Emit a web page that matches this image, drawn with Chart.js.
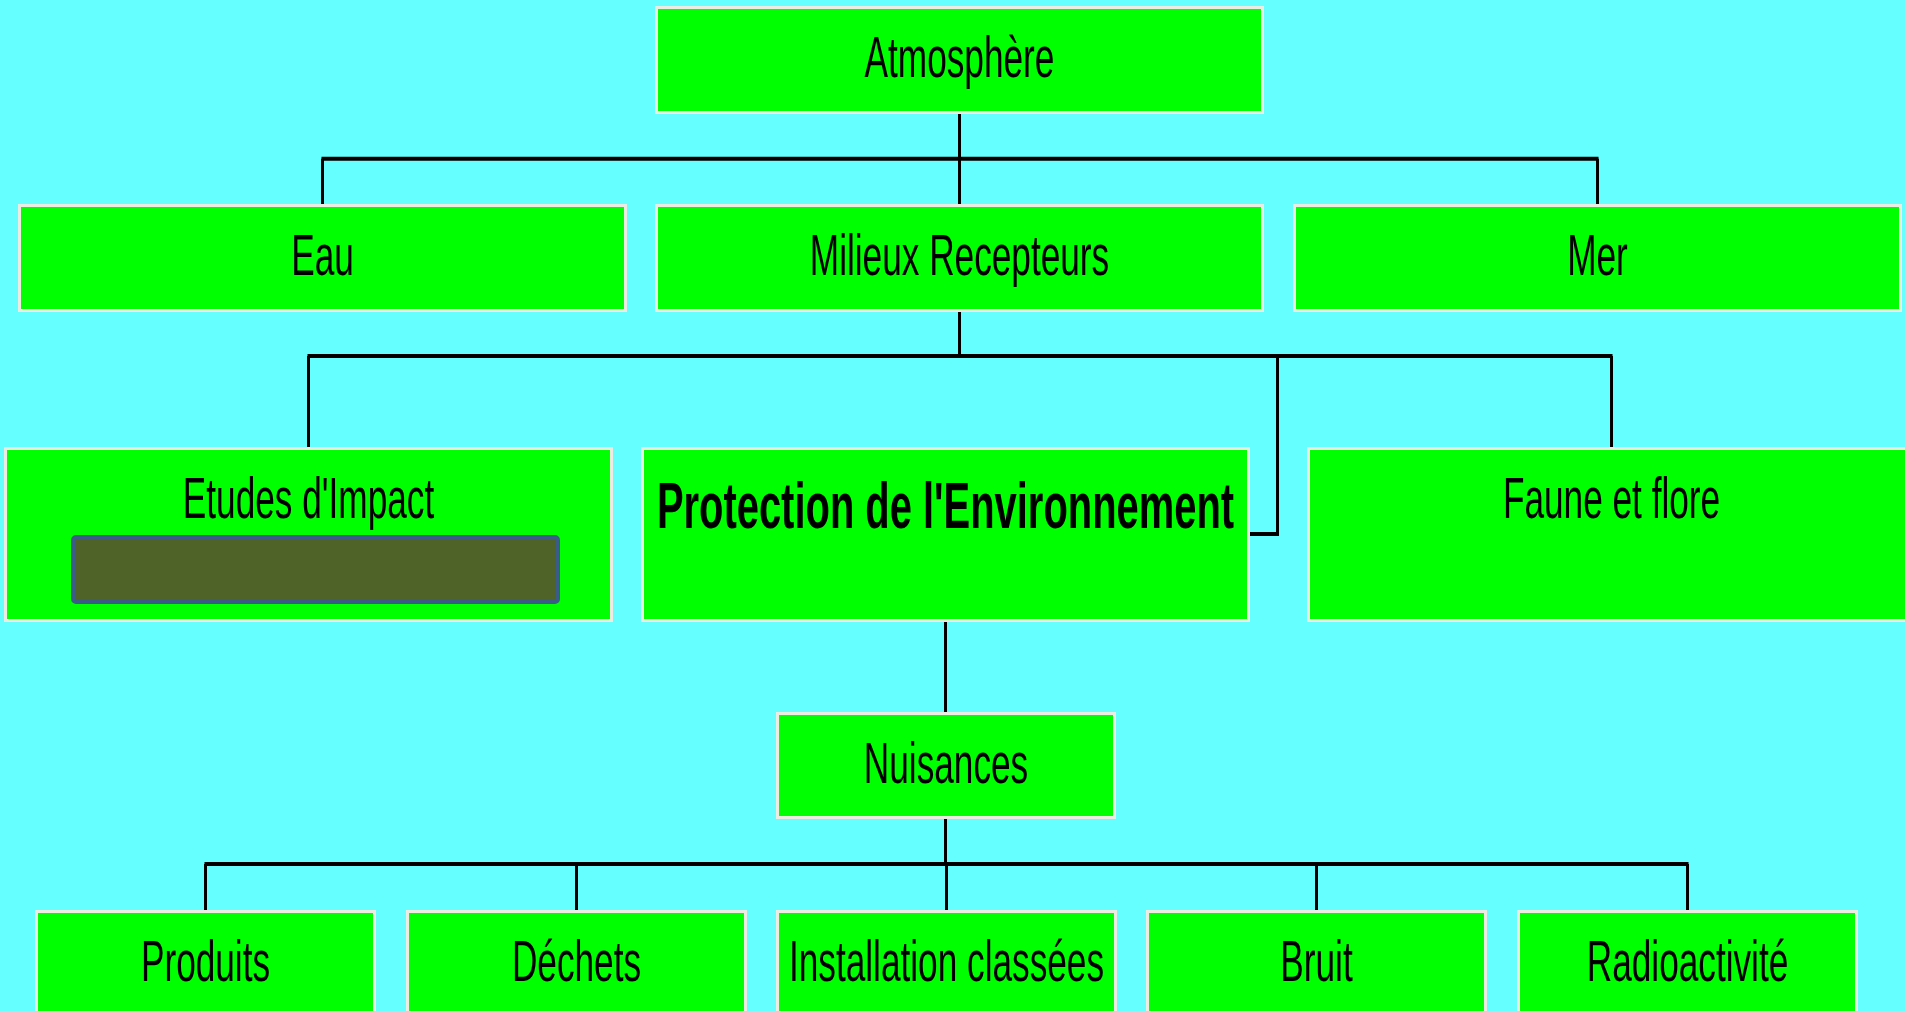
<!DOCTYPE html>
<html>
<head>
<meta charset="utf-8">
<script src="https://cdn.jsdelivr.net/npm/chart.js@4.4.1/dist/chart.umd.min.js"></script>
<style>
  html, body { margin: 0; padding: 0; background: #66FFFF; overflow: hidden; }
  #wrap { position: absolute; left: 0; top: 0; width: 1905px; height: 1011px; }
</style>
</head>
<body>
<div id="wrap"><canvas id="c" width="1905" height="1011"></canvas></div>
<script>
// ---------- DATA (node labels per level) ----------
const level0 = ['Atmosphère'];
const level1 = ['Eau', 'Milieux Recepteurs', 'Mer'];
const level2 = ["Etudes d'Impact", "Protection de l'Environnement", 'Faune et flore'];
const level3 = ['Nuisances'];
const level4 = ['Produits', 'Déchets', 'Installation classées', 'Bruit', 'Radioactivité'];
const levels = [level0, level1, level2, level3, level4];
// parent of each level: [parentLevel, parentIndex]
const parents = [null, [0, 0], [1, 1], [2, 1], [3, 0]];
// child of level2 attached on the side of its box
const sideChild = [2, 1];
const boldNodes = ["Protection de l'Environnement"];

// ---------- LAYOUT (positions / sizes, in scale units) ----------
const rowTop = [6, 204, 447, 712, 910];
const rowHeight = [108, 108, 175, 107, 130];
const rowLeft = [[655], [18, 655, 1293], [4, 641, 1307], [776], [35, 406, 776, 1146, 1517]];
const rowWidth = [609, 609, 609, 340, 341];
const barY = [null, 158.7, 356, null, 864];
const sideJoinY = 534;
const sideBusX = 1277.5;
const innerRect = [73, 537, 485, 65]; // dark panel inside "Etudes d'Impact"

function box(l, i) {
  return { x: rowLeft[l][i], y: rowTop[l], w: rowWidth[l], h: rowHeight[l] };
}
function cx(l, i) { const b = box(l, i); return b.x + b.w / 2; }

// ---------- build connector segments from the structure ----------
const hSeg = []; // thick horizontal segments
const vSeg = []; // thinner vertical segments
function addV(x, y1, y2) { vSeg.push({x, y: y1}, {x, y: y2}, {x, y: null}); }
function addH(y, x1, x2) { hSeg.push({x: x1, y}, {x: x2, y}, {x: null, y: null}); }

for (let l = 1; l < levels.length; l++) {
  const [pl, pi] = parents[l];
  const pb = box(pl, pi);
  const px = Math.round(cx(pl, pi)) - 0.5;
  const n = levels[l].length;
  if (n === 1) {
    addV(px, pb.y + pb.h, rowTop[l]);
    continue;
  }
  const by = barY[l];
  addV(px, pb.y + pb.h, by);
  const xs = [];
  for (let i = 0; i < n; i++) {
    if (sideChild[0] === l && sideChild[1] === i) continue;
    const x = Math.round(cx(l, i)) - 0.5;
    xs.push(x);
    addV(x, by, rowTop[l]);
  }
  if (sideChild[0] === l) {
    const sb = box(l, sideChild[1]);
    xs.push(sideBusX);
    addV(sideBusX, by, sideJoinY);
    addH(sideJoinY, sb.x + sb.w, sideBusX + 1.5);
  }
  addH(by, Math.min(...xs) - 1, Math.max(...xs) + 1);
}

// ---------- plugin drawing the node boxes ----------
const boxPlugin = {
  id: 'boxes',
  afterDatasetsDraw(chart) {
    const ctx = chart.ctx;
    const xs = chart.scales.x, ys = chart.scales.y;
    const px = v => xs.getPixelForValue(v);
    const py = v => ys.getPixelForValue(v);
    levels.forEach((labels, l) => {
      labels.forEach((label, i) => {
        const b = box(l, i);
        const x0 = px(b.x), x1 = px(b.x + b.w), y0 = py(b.y), y1 = py(b.y + b.h);
        ctx.save();
        ctx.fillStyle = '#00FF00';
        ctx.fillRect(x0, y0, x1 - x0, y1 - y0);
        ctx.lineWidth = 3;
        ctx.strokeStyle = '#ECECE2';
        ctx.strokeRect(x0 + 1.5, y0 + 1.5, x1 - x0 - 3, y1 - y0 - 3);
        // text
        const bold = boldNodes.includes(label);
        const size = bold ? 65 : 58;
        const sx = bold ? 0.614 : 0.607;
        const base = py(b.y + (bold ? 81 : 71));
        ctx.translate((x0 + x1) / 2, base);
        ctx.scale(sx, 1);
        ctx.font = (bold ? 'bold ' : '') + size + 'px "Liberation Sans", Arial, sans-serif';
        ctx.fillStyle = '#000000';
        ctx.textAlign = 'center';
        ctx.textBaseline = 'alphabetic';
        ctx.fillText(label, 0, 0);
        ctx.restore();
        if (l === 2 && i === 0) {
          const [rx, ry, rw, rh] = innerRect;
          const ax = px(rx), ay = py(ry), bx = px(rx + rw), by2 = py(ry + rh);
          ctx.save();
          ctx.beginPath();
          if (ctx.roundRect) ctx.roundRect(ax, ay, bx - ax, by2 - ay, 3); else ctx.rect(ax, ay, bx - ax, by2 - ay);
          ctx.fillStyle = '#4F6228';
          ctx.fill();
          ctx.lineWidth = 4;
          ctx.strokeStyle = '#3A5C86';
          ctx.stroke();
          ctx.restore();
        }
      });
    });
  }
};

new Chart(document.getElementById('c'), {
  type: 'scatter',
  data: {
    datasets: [
      { data: vSeg, showLine: true, borderColor: '#000000', borderWidth: 3, pointRadius: 0, spanGaps: false, clip: false },
      { data: hSeg, showLine: true, borderColor: '#000000', borderWidth: 4, pointRadius: 0, spanGaps: false, clip: false }
    ]
  },
  options: {
    responsive: false,
    animation: false,
    events: [],
    layout: { padding: 0 },
    plugins: { legend: { display: false }, tooltip: { enabled: false } },
    scales: {
      x: { type: 'linear', min: 0, max: 1905, display: false },
      y: { type: 'linear', min: 0, max: 1011, reverse: true, display: false }
    }
  },
  plugins: [boxPlugin]
});
</script>
</body>
</html>
